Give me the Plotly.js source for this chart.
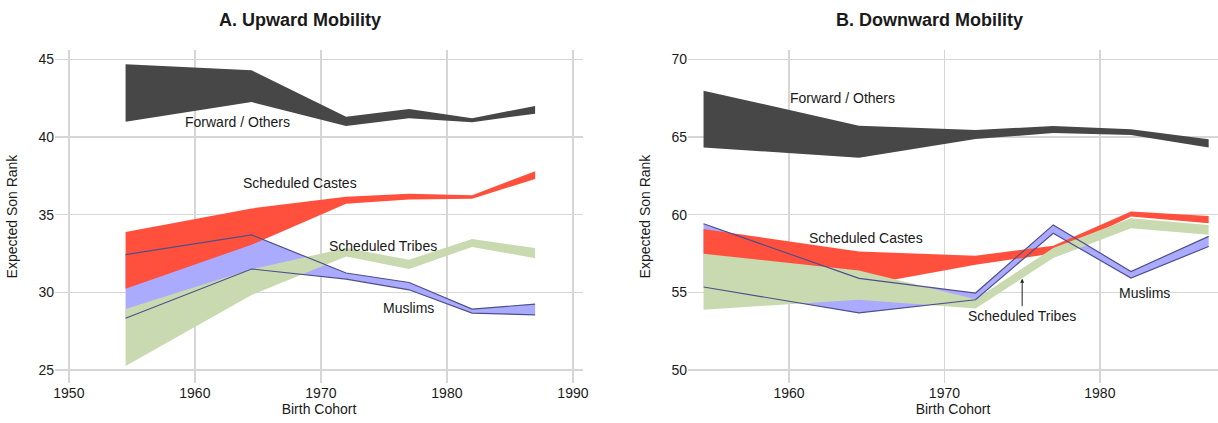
<!DOCTYPE html>
<html>
<head>
<meta charset="utf-8">
<script src="https://cdn.plot.ly/plotly-3.0.1.min.js"></script>
<style>html,body{margin:0;padding:0;background:#fff;}#chart{width:1218px;height:423px;}</style>
</head>
<body>
<div id="chart"></div>
<script>
// Birth cohorts (x positions of the estimates)
const cohorts = [1954.5, 1964.5, 1972, 1977, 1982, 1987];
const xTicksA = [1950, 1960, 1970, 1980, 1990];
const xTicksB = [1960, 1970, 1980];
const yTicksA = [25, 30, 35, 40, 45];
const yTicksB = [50, 55, 60, 65, 70];

// Panel A: Upward mobility, bounds (upper / lower)
const upFwdHi = [44.68, 44.29, 41.30, 41.80, 41.20, 42.00];
const upFwdLo = [40.98, 42.25, 40.70, 41.20, 40.95, 41.50];
const upScHi  = [33.88, 35.40, 36.15, 36.34, 36.25, 37.80];
const upScLo  = [30.23, 33.06, 35.70, 35.97, 36.03, 37.30];
const upStHi  = [28.92, 31.48, 32.85, 32.10, 33.43, 32.85];
const upStLo  = [25.26, 29.82, 32.30, 31.50, 32.92, 32.20];
const upMuHi  = [32.42, 33.70, 31.24, 30.63, 28.92, 29.24];
const upMuLo  = [28.33, 31.50, 30.85, 30.16, 28.66, 28.55];

// Panel B: Downward mobility, bounds (upper / lower)
const dnFwdHi = [67.98, 65.73, 65.45, 65.70, 65.50, 64.86];
const dnFwdLo = [64.32, 63.67, 64.87, 65.25, 65.13, 64.32];
const dnScHi  = [59.07, 57.63, 57.35, 58.00, 60.20, 59.92];
const dnScLo  = [57.48, 55.40, 56.77, 57.50, 59.88, 59.45];
const dnStHi  = [57.48, 56.40, 54.55, 57.85, 59.77, 59.34];
const dnStLo  = [53.88, 54.52, 53.95, 57.20, 59.13, 58.70];
const dnMuHi  = [59.41, 55.90, 54.95, 59.34, 56.34, 58.60];
const dnMuLo  = [55.34, 53.67, 54.52, 58.80, 55.92, 57.95];

const colFwd = '#474747';
const colSc = '#ff503d';
const colSt = '#c9dab0';
const colMu = '#aaaaff';
const colMuLine = '#4f4f8a';

function band(hi, lo, color, xa, ya) {
  return {
    x: cohorts.concat(cohorts.slice().reverse()),
    y: hi.concat(lo.slice().reverse()),
    type: 'scatter', mode: 'lines', fill: 'toself',
    fillcolor: color, line: {width: 0, color: color},
    hoverinfo: 'skip', xaxis: xa, yaxis: ya
  };
}
function edge(vals, xa, ya) {
  return {x: cohorts, y: vals, type: 'scatter', mode: 'lines',
    line: {color: colMuLine, width: 1.2}, hoverinfo: 'skip', xaxis: xa, yaxis: ya};
}

const traces = [
  band(upMuHi, upMuLo, colMu, 'x', 'y'),
  band(upScHi, upScLo, colSc, 'x', 'y'),
  band(upStHi, upStLo, colSt, 'x', 'y'),
  band(upFwdHi, upFwdLo, colFwd, 'x', 'y'),
  edge(upMuHi, 'x', 'y'), edge(upMuLo, 'x', 'y'),
  band(dnMuHi, dnMuLo, colMu, 'x2', 'y2'),
  band(dnScHi, dnScLo, colSc, 'x2', 'y2'),
  band(dnStHi, dnStLo, colSt, 'x2', 'y2'),
  band(dnFwdHi, dnFwdLo, colFwd, 'x2', 'y2'),
  edge(dnMuHi, 'x2', 'y2'), edge(dnMuLo, 'x2', 'y2')
];

const font = 'Liberation Sans, Arial, sans-serif';
const txt = '#1a1a1a';
const axBase = {
  showgrid: true, gridcolor: '#d6d6d6', gridwidth: 1.3, zeroline: false,
  showline: false, ticks: '', tickfont: {family: font, size: 14, color: txt},
  automargin: false, fixedrange: true
};
const yDom = [40/423, 373/423];

function lab(text, x, y, xref, yref) {
  return {text: text, x: x, y: y, xref: xref, yref: yref, showarrow: false,
    font: {family: font, size: 14, color: txt}, xanchor: 'center', yanchor: 'middle'};
}

const layout = {
  width: 1218, height: 423,
  margin: {l: 0, r: 0, t: 0, b: 0},
  paper_bgcolor: '#ffffff', plot_bgcolor: '#ffffff',
  showlegend: false,
  font: {family: font, color: txt},
  xaxis: Object.assign({}, axBase, {domain: [55/1218, 583/1218], range: [1948.9, 1990.8],
    tickvals: xTicksA, title: {text: 'Birth Cohort', font: {family: font, size: 14, color: txt}, standoff: 2}}),
  yaxis: Object.assign({}, axBase, {domain: yDom, range: [24.16, 45.6], tickvals: yTicksA,
    title: {text: 'Expected Son Rank', font: {family: font, size: 14, color: txt}}}),
  xaxis2: Object.assign({}, axBase, {domain: [688/1218, 1], range: [1953.5, 1987.6], anchor: 'y2',
    tickvals: xTicksB, title: {text: 'Birth Cohort', font: {family: font, size: 14, color: txt}, standoff: 2}}),
  yaxis2: Object.assign({}, axBase, {domain: yDom, range: [49.16, 70.6], anchor: 'x2', tickvals: yTicksB,
    title: {text: 'Expected Son Rank', font: {family: font, size: 14, color: txt}}}),
  annotations: [
    {text: '<b>A. Upward Mobility</b>', x: 300/1218, y: 1 - 20/423, xref: 'paper', yref: 'paper',
      showarrow: false, font: {family: font, size: 18, color: txt}, xanchor: 'center', yanchor: 'middle'},
    {text: '<b>B. Downward Mobility</b>', x: 929/1218, y: 1 - 20/423, xref: 'paper', yref: 'paper',
      showarrow: false, font: {family: font, size: 18, color: txt}, xanchor: 'center', yanchor: 'middle'},
    lab('Forward / Others', 1963.41, 40.96, 'x', 'y'),
    lab('Scheduled Castes', 1968.33, 37.03, 'x', 'y'),
    lab('Scheduled Tribes', 1974.96, 32.98, 'x', 'y'),
    lab('Muslims', 1976.98, 28.99, 'x', 'y'),
    lab('Forward / Others', 1963.47, 67.51, 'x2', 'y2'),
    lab('Scheduled Castes', 1964.95, 58.51, 'x2', 'y2'),
    lab('Muslims', 1982.89, 54.97, 'x2', 'y2'),
    {text: 'Scheduled Tribes', x: 1975.0, y: 55.87, xref: 'x2', yref: 'y2', showarrow: true,
      ax: 0, ay: 37, arrowhead: 2, arrowsize: 0.8, arrowwidth: 1, arrowcolor: '#222',
      standoff: 0, font: {family: font, size: 14, color: txt}}
  ]
};

Plotly.newPlot('chart', traces, layout, {displayModeBar: false, staticPlot: true});
</script>
</body>
</html>
